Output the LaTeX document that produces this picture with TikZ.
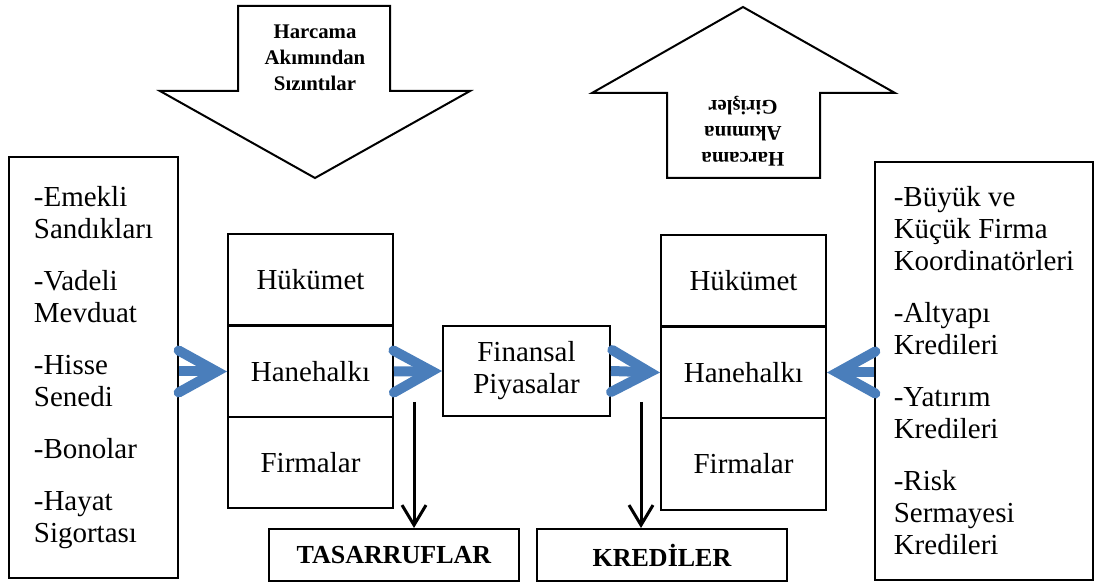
\documentclass[tikz,border=0pt]{standalone}
\usepackage{fontspec}
\setmainfont{Liberation Serif}
\usetikzlibrary{arrows.meta}
\definecolor{flowblue}{RGB}{74,126,187}
\begin{document}
\begin{tikzpicture}[x=0.5pt,y=-0.5pt,>=Straight Barb]
    \tikzstyle{box}=[draw,line width=1pt,inner sep=0pt,align=center,font=\fontsize{14.5}{16}\selectfont]
    \tikzstyle{sector}=[box,minimum width=82.5pt,minimum height=45.5pt]
    \tikzstyle{listbox}=[box,align=left]
    \tikzstyle{result}=[box,minimum width=125pt,minimum height=26pt,font=\fontsize{13}{15}\selectfont\bfseries]
    \tikzstyle{bigarrow}=[draw,line width=1pt,line join=miter]
    \tikzstyle{arrowtext}=[align=center,font=\fontsize{10.4}{13}\selectfont\bfseries]
    \tikzstyle{flow}=[flowblue,line width=5pt,-{Straight Barb[length=19pt,width=21pt,line cap=round,line join=miter]}]
    \tikzstyle{drop}=[line width=1.5pt,-{Straight Barb[length=10pt,width=12pt]}]
    \useasboundingbox (0,0) rectangle (1100,583);

    \draw[bigarrow] (238,6) -- (390,6) -- (390,91) -- (470,91) -- (315,178) -- (160,91) -- (238,91) -- cycle;
    \node[arrowtext] (leak) at (315,58) {Harcama\\Akımından\\Sızıntılar};
    \draw[bigarrow] (667,178) -- (820,178) -- (820,93) -- (895,93) -- (743,7) -- (592,93) -- (667,93) -- cycle;
    \node[arrowtext,rotate=180] (inject) at (743,131) {Harcama\\Akımına\\Girişler};

    \node[listbox,minimum width=84.5pt,minimum height=210.5pt] (sources) at (93.5,367.5) {-Emekli\\Sandıkları\\[10pt]-Vadeli\\Mevduat\\[10pt]-Hisse\\Senedi\\[10pt]-Bonolar\\[10pt]-Hayat\\Sigortası};
    \node[listbox,minimum width=109pt,minimum height=209pt] (uses) at (984,371) {-Büyük ve\\Küçük Firma\\Koordinatörleri\\[10pt]-Altyapı\\Kredileri\\[10pt]-Yatırım\\Kredileri\\[10pt]-Risk\\Sermayesi\\Kredileri};

    \node[sector] (gov1) at (310.5,280) {Hükümet};
    \node[sector] (house1) at (310.5,371.5) {Hanehalkı};
    \node[sector] (firm1) at (310.5,462.5) {Firmalar};
    \node[sector,minimum width=83.5pt,minimum height=45pt] (market) at (526.5,371) {Finansal\\Piyasalar};
    \node[sector] (gov2) at (743.5,281) {Hükümet};
    \node[sector] (house2) at (743.5,372.5) {Hanehalkı};
    \node[sector] (firm2) at (743.5,464) {Firmalar};
    \node[result] (savings) at (394,555) {TASARRUFLAR};
    \node[result] (credits) at (662,555) {KREDİLER};

    \draw[flow] (sources.east |- house1.west) -- (house1.west);
    \draw[flow] (house1.east) -- (market.west);
    \draw[flow] (market.east) -- (house2.west);
    \draw[flow] (uses.west |- house2.east) -- (house2.east);

    \coordinate (save) at (414,402);
    \coordinate (lend) at (641,402);
    \draw[drop] (save) -- (save |- savings.north);
    \draw[drop] (lend) -- (lend |- credits.north);
\end{tikzpicture}
\end{document}
